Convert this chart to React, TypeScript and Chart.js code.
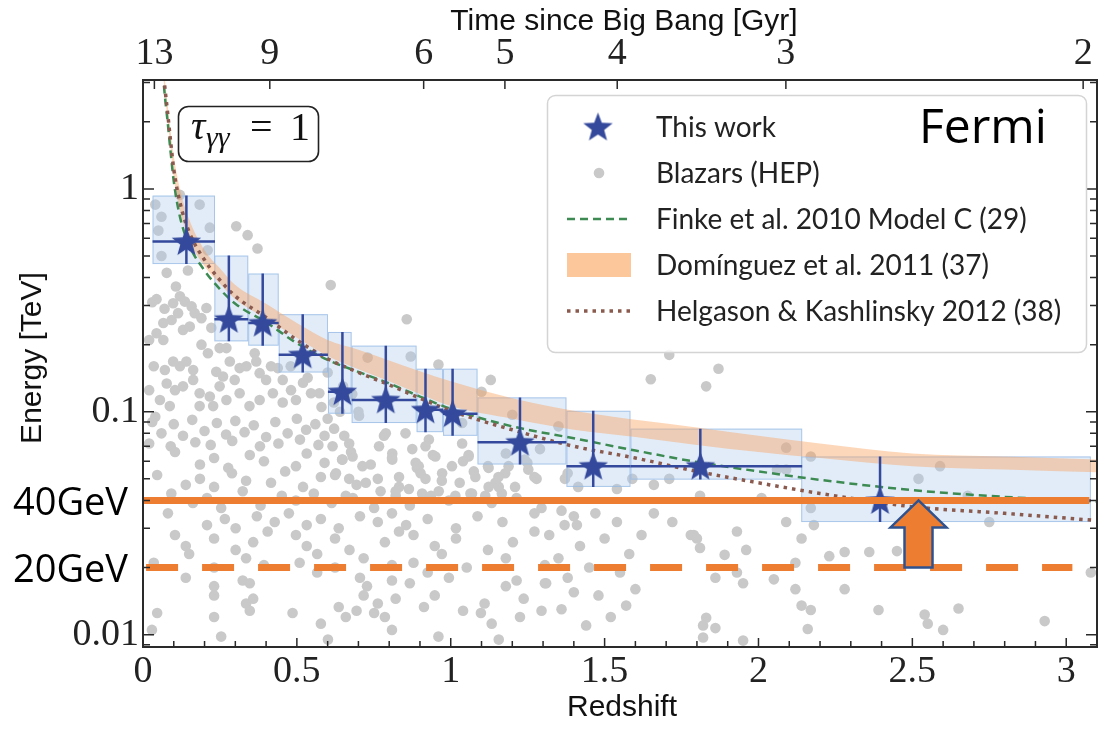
import React, { useEffect, useRef } from "react";
import { Chart, registerables } from "chart.js";

Chart.register(...registerables);

// ---- axes ----
const zMin = 0;
const zMax = 3.1;
const eMin = 0.0088;
const eMax = 3.08;
const redshiftTicks = [0, 0.5, 1, 1.5, 2, 2.5, 3];
const energyTicks = [0.01, 0.1, 1];
const ageLabels = [13, 9, 6, 5, 4, 3, 2];
const ageRedshifts = [0.037, 0.412, 0.912, 1.176, 1.541, 2.089, 3.055];

// ---- this work: tau = 1 energies with bin ranges ----
const starZ = [0.141, 0.279, 0.389, 0.519, 0.648, 0.789, 0.918, 1.006, 1.225, 1.463, 1.811, 2.395];
const starE = [0.58, 0.26, 0.25, 0.18, 0.123, 0.113, 0.102, 0.098, 0.073, 0.057, 0.057, 0.04];
const starZLo = [0.031, 0.232, 0.342, 0.441, 0.601, 0.678, 0.889, 0.975, 1.087, 1.376, 1.584, 2.139];
const starZHi = [0.234, 0.342, 0.441, 0.601, 0.678, 0.889, 0.975, 1.087, 1.376, 1.584, 2.142, 3.08];
const starELo = [0.46, 0.207, 0.198, 0.15, 0.098, 0.089, 0.081, 0.078, 0.058, 0.046, 0.0496, 0.032];
const starEHi = [0.933, 0.502, 0.417, 0.274, 0.228, 0.198, 0.156, 0.156, 0.116, 0.101, 0.084, 0.063];

// ---- EBL model curves ----
const curveZ = [0.05, 0.06, 0.07, 0.08, 0.09, 0.1, 0.12, 0.15, 0.2, 0.25, 0.3, 0.4, 0.5, 0.6, 0.7, 0.8, 0.9, 1.0, 1.2, 1.4, 1.6, 1.8, 2.0, 2.2, 2.5, 2.8, 3.1];
const finkeE = [6.5, 4.0, 2.7, 2.0, 1.45, 1.08, 0.75, 0.56, 0.43, 0.355, 0.305, 0.252, 0.203, 0.171, 0.151, 0.134, 0.117, 0.103, 0.086, 0.076, 0.067, 0.0595, 0.054, 0.0495, 0.0445, 0.0415, 0.0395];
const dominguezHi = [7.5, 4.6, 3.2, 2.4, 1.8, 1.4, 1.0, 0.73, 0.53, 0.44, 0.37, 0.305, 0.25, 0.21, 0.19, 0.17, 0.152, 0.137, 0.115, 0.101, 0.092, 0.085, 0.078, 0.072, 0.065, 0.063, 0.061];
const dominguezLo = [6.5, 4.0, 2.75, 2.05, 1.5, 1.12, 0.8, 0.59, 0.45, 0.375, 0.32, 0.262, 0.215, 0.178, 0.155, 0.137, 0.12, 0.106, 0.093, 0.083, 0.077, 0.071, 0.066, 0.062, 0.057, 0.055, 0.0535];
const helgasonE = [7.0, 4.3, 2.95, 2.2, 1.62, 1.22, 0.87, 0.64, 0.48, 0.39, 0.33, 0.265, 0.21, 0.173, 0.15, 0.132, 0.115, 0.101, 0.083, 0.07, 0.062, 0.054, 0.048, 0.043, 0.0375, 0.035, 0.0325];

// ---- Fermi thresholds ----
const thresholdE = [0.04, 0.02];
const thresholdLabels = ["n 40GeV", "n 20GeV"];
const solidLineZ = [0, 3.075];
const dashedLineZ = [0.01, 3.02];
const arrowZ = 2.52;

// ---- blazars (HEP): [redshift, energy TeV] ----
const blazarPoints: number[][] = [
  [0.04, 0.85], [0.06, 0.75], [0.12, 0.94], [0.184, 0.85], [0.05, 0.65], [0.21, 0.53], [0.217, 0.67], [0.303, 0.68],
  [0.34, 0.62], [0.372, 0.54], [0.06, 0.5], [0.077, 0.42], [0.146, 0.43], [0.61, 0.37], [0.107, 0.365], [0.044, 0.32],
  [0.07, 0.29], [0.098, 0.307], [0.12, 0.33], [0.136, 0.312], [0.158, 0.297], [0.168, 0.277], [0.114, 0.277], [0.093, 0.258],
  [0.066, 0.25], [0.044, 0.225], [0.066, 0.21], [0.13, 0.233], [0.152, 0.241], [0.19, 0.263], [0.206, 0.292], [0.222, 0.238],
  [0.249, 0.193], [0.271, 0.193], [0.19, 0.2], [0.211, 0.183], [0.098, 0.168], [0.12, 0.16], [0.141, 0.168], [0.163, 0.154],
  [0.071, 0.154], [0.238, 0.151], [0.26, 0.144], [0.282, 0.168], [0.298, 0.139], [0.314, 0.157], [0.336, 0.16], [0.363, 0.183],
  [0.368, 0.168], [0.379, 0.149], [0.4, 0.139], [0.416, 0.16], [0.438, 0.157], [0.454, 0.139], [0.481, 0.125], [0.497, 0.113],
  [0.535, 0.142], [0.546, 0.121], [0.573, 0.121], [0.077, 0.134], [0.104, 0.125], [0.13, 0.13], [0.163, 0.139], [0.184, 0.121],
  [0.217, 0.117], [0.249, 0.13], [0.271, 0.113], [0.314, 0.121], [0.346, 0.106], [0.379, 0.113], [0.422, 0.121], [0.454, 0.11],
  [0.055, 0.113], [0.087, 0.106], [0.184, 0.106], [0.228, 0.106], [0.03, 0.31], [0.02, 0.21], [0.035, 0.16], [0.02, 0.125],
  [0.04, 0.095], [0.48, 0.16], [0.52, 0.135], [0.6, 0.15], [0.65, 0.13], [0.58, 0.105], [0.62, 0.11], [0.68, 0.12],
  [0.7, 0.1], [0.64, 0.1], [0.6, 0.093],
  [0.621, 0.084], [0.654, 0.078], [0.616, 0.07], [0.67, 0.072], [0.702, 0.096], [0.681, 0.063], [0.648, 0.061], [0.713, 0.057],
  [0.627, 0.053], [0.67, 0.05], [0.724, 0.048], [0.767, 0.07], [0.783, 0.078], [0.81, 0.061], [0.832, 0.051], [0.853, 0.08],
  [0.875, 0.068], [0.896, 0.057], [0.929, 0.075], [0.95, 0.063], [0.918, 0.05], [0.972, 0.053], [1.004, 0.057], [1.037, 0.072],
  [1.058, 0.063], [1.08, 0.051], [1.123, 0.056], [1.145, 0.048], [1.177, 0.053], [1.209, 0.046], [1.252, 0.055], [1.279, 0.05],
  [0.772, 0.044], [0.821, 0.042], [0.864, 0.045], [0.907, 0.043], [0.961, 0.044], [1.015, 0.042], [1.069, 0.043], [1.112, 0.042],
  [1.166, 0.043], [0.659, 0.042],
  [1.13, 0.139], [0.96, 0.163], [0.87, 0.177], [0.73, 0.175], [1.1, 0.123], [1.2, 0.097], [1.35, 0.086], [1.29, 0.068], [0.857, 0.26],
  [1.71, 0.18], [1.87, 0.156], [1.65, 0.14], [1.83, 0.13], [0.789, 0.08], [0.81, 0.065], [0.886, 0.059], [0.918, 0.07],
  [1.037, 0.089], [1.058, 0.064], [1.123, 0.046], [1.155, 0.051], [1.188, 0.057], [1.24, 0.061], [1.414, 0.046], [1.371, 0.05],
  [1.54, 0.045], [1.59, 0.05],
  [1.38, 0.053], [1.66, 0.047], [1.71, 0.05], [1.81, 0.042], [2.01, 0.041], [2.09, 0.055], [2.06, 0.055], [1.47, 0.035],
  [1.4, 0.034], [1.37, 0.031], [1.41, 0.031], [1.54, 0.032], [1.66, 0.035], [1.72, 0.032], [1.93, 0.029], [2.09, 0.032],
  [2.18, 0.031], [1.78, 0.028], [1.79, 0.028], [1.36, 0.036], [2.17, 0.063], [2.09, 0.069], [2.52, 0.05], [2.59, 0.057],
  [2.68, 0.042], [2.75, 0.032], [2.17, 0.037], [1.81, 0.0245], [1.89, 0.0228], [1.96, 0.024], [2.14, 0.027], [2.23, 0.0225],
  [2.28, 0.0235], [2.36, 0.0235], [2.45, 0.0237], [2.12, 0.021], [1.86, 0.018], [1.93, 0.019], [1.95, 0.017], [2.05, 0.0177],
  [2.12, 0.016], [2.28, 0.016], [3.08, 0.019], [2.14, 0.0135], [2.17, 0.0129], [2.39, 0.0129], [2.54, 0.0123], [2.55, 0.0112],
  [2.6, 0.0105], [2.65, 0.0131], [2.93, 0.0115], [2.16, 0.0106], [1.83, 0.0119], [1.82, 0.011], [1.86, 0.0107], [1.82, 0.0097],
  [1.95, 0.0094], [1.8, 0.027],
  [1.32, 0.028], [1.35, 0.022], [1.38, 0.018], [1.42, 0.025], [1.45, 0.02], [1.48, 0.015], [1.5, 0.027], [1.52, 0.012],
  [1.55, 0.019], [1.58, 0.023], [1.36, 0.013], [1.44, 0.011], [1.6, 0.016], [1.62, 0.028], [1.4, 0.0155], [1.31, 0.017], [1.57, 0.0135],
  [0.03, 0.09], [0.1, 0.088], [0.16, 0.092], [0.24, 0.089], [0.3, 0.091], [0.36, 0.087], [0.43, 0.09], [0.5, 0.093], [0.56, 0.088],
  [0.06, 0.08], [0.13, 0.078], [0.2, 0.082], [0.27, 0.079], [0.33, 0.081], [0.4, 0.077], [0.47, 0.08], [0.53, 0.083], [0.59, 0.078],
  [0.02, 0.072], [0.09, 0.07], [0.17, 0.073], [0.22, 0.071], [0.29, 0.074], [0.38, 0.07], [0.44, 0.072], [0.51, 0.075], [0.57, 0.071],
  [0.104, 0.066], [0.185, 0.058], [0.231, 0.062], [0.277, 0.056], [0.347, 0.064], [0.393, 0.06], [0.497, 0.057], [0.532, 0.065],
  [0.59, 0.059], [0.647, 0.061], [0.676, 0.066], [0.74, 0.058], [0.809, 0.062], [0.89, 0.056], [0.942, 0.064], [1.04, 0.06],
  [1.121, 0.057], [1.179, 0.065], [1.249, 0.059],
  [0.046, 0.052], [0.139, 0.047], [0.185, 0.05], [0.231, 0.046], [0.289, 0.053], [0.335, 0.049], [0.416, 0.048], [0.462, 0.054],
  [0.52, 0.046], [0.578, 0.051], [0.624, 0.052], [0.694, 0.047], [0.763, 0.05], [0.832, 0.046], [0.902, 0.053], [0.971, 0.049],
  [1.029, 0.048], [1.075, 0.054], [1.156, 0.046], [1.272, 0.051],
  [0.092, 0.043], [0.162, 0.039], [0.208, 0.041], [0.254, 0.037], [0.324, 0.044], [0.382, 0.038], [0.451, 0.042], [0.497, 0.04],
  [0.555, 0.043], [0.613, 0.039], [0.682, 0.041], [0.751, 0.037], [0.821, 0.044], [0.867, 0.038], [0.936, 0.042], [0.994, 0.04],
  [1.064, 0.043], [1.133, 0.039], [1.214, 0.041], [1.295, 0.037],
  [0.081, 0.035], [0.208, 0.031], [0.266, 0.033], [0.301, 0.03], [0.37, 0.034], [0.428, 0.032], [0.474, 0.035], [0.532, 0.031],
  [0.578, 0.033], [0.636, 0.03], [0.705, 0.034], [0.763, 0.032], [0.809, 0.035], [0.855, 0.031], [0.925, 0.033], [1.017, 0.03],
  [1.087, 0.034], [1.168, 0.032], [1.272, 0.035],
  [0.104, 0.028], [0.139, 0.025], [0.231, 0.027], [0.301, 0.024], [0.358, 0.026], [0.405, 0.029], [0.497, 0.028], [0.532, 0.025],
  [0.624, 0.027], [0.671, 0.024], [0.786, 0.026], [0.832, 0.029], [0.879, 0.028], [0.948, 0.025], [1.017, 0.027], [1.121, 0.024],
  [1.202, 0.026], [1.272, 0.029],
  [0.035, 0.021], [0.15, 0.023], [0.231, 0.02], [0.335, 0.022], [0.393, 0.0205], [0.509, 0.021], [0.566, 0.023], [0.624, 0.02],
  [0.717, 0.022], [0.809, 0.0205], [0.879, 0.021], [0.971, 0.023], [1.052, 0.02], [1.179, 0.022], [1.306, 0.0205],
  [0.139, 0.018], [0.231, 0.0165], [0.324, 0.0175], [0.347, 0.017], [0.566, 0.019], [0.705, 0.018], [0.728, 0.0165], [0.809, 0.0175],
  [0.867, 0.017], [0.925, 0.019], [0.994, 0.018], [1.179, 0.0165], [1.214, 0.0175], [1.306, 0.017],
  [0.231, 0.015], [0.335, 0.0138], [0.358, 0.0145], [0.636, 0.0133], [0.717, 0.015], [0.763, 0.0138], [0.821, 0.0145], [0.913, 0.0133],
  [0.948, 0.015], [1.11, 0.0138], [1.237, 0.0145],
  [0.046, 0.0125], [0.231, 0.012], [0.347, 0.0128], [0.486, 0.0125], [0.659, 0.012], [0.694, 0.0128], [0.751, 0.0125], [0.786, 0.012],
  [1.04, 0.0128], [1.098, 0.0125], [1.225, 0.012], [1.295, 0.0128],
  [0.029, 0.0105], [0.254, 0.0098], [0.578, 0.0112], [0.601, 0.0095], [0.809, 0.0105], [0.96, 0.0098], [1.133, 0.0112], [1.156, 0.0095],
];

const legendLabels = [
  "This work",
  "Blazars (HEP)",
  "Finke et al. 2010 Model C (29)",
  "Domínguez et al. 2011 (37)",
  "Helgason & Kashlinsky 2012 (38)",
];

// ---- styles ----
const STAR_BLUE = "#34499c";
const DOT_GREY = "#c9c9c9";
const BOX_FILL = "rgba(170,200,235,0.35)";
const BOX_EDGE = "rgba(150,185,230,0.75)";
const BAND_FILL = "rgba(250,160,90,0.42)";
const LEGEND_BAND = "rgba(252,165,95,0.62)";
const FINKE_GREEN = "#3d8b52";
const HELGASON_BROWN = "#8a5a4e";
const FERMI_ORANGE = "#ed7d31";
const ARROW_EDGE = "#2f528f";
const SERIF = "'Liberation Serif', serif";
const SANS = "'Liberation Sans', Arial, sans-serif";

function makeStar(size: number, color: string): HTMLCanvasElement {
  const c = document.createElement("canvas");
  c.width = size;
  c.height = size;
  const g = c.getContext("2d")!;
  const R = size / 2 - 1;
  const r = R * 0.42;
  const cx = size / 2;
  const cy = size / 2 + 1;
  g.beginPath();
  for (let k = 0; k < 10; k++) {
    const ang = -Math.PI / 2 + (k * Math.PI) / 5;
    const rr = k % 2 === 0 ? R : r;
    const px = cx + rr * Math.cos(ang);
    const py = cy + rr * Math.sin(ang);
    if (k === 0) g.moveTo(px, py);
    else g.lineTo(px, py);
  }
  g.closePath();
  g.fillStyle = color;
  g.fill();
  return c;
}

function roundRect(ctx: CanvasRenderingContext2D, x: number, y: number, w: number, h: number, r: number) {
  ctx.beginPath();
  ctx.moveTo(x + r, y);
  ctx.lineTo(x + w - r, y);
  ctx.arcTo(x + w, y, x + w, y + r, r);
  ctx.lineTo(x + w, y + h - r);
  ctx.arcTo(x + w, y + h, x + w - r, y + h, r);
  ctx.lineTo(x + r, y + h);
  ctx.arcTo(x, y + h, x, y + h - r, r);
  ctx.lineTo(x, y + r);
  ctx.arcTo(x, y, x + r, y, r);
  ctx.closePath();
}

const pairs = (xs: number[], ys: number[]) => xs.map((x, i) => ({ x, y: ys[i] }));

export default function App() {
  const ref = useRef<HTMLCanvasElement>(null);

  useEffect(() => {
    document.body.style.margin = "0";
    const canvas = ref.current!;
    const starImg = makeStar(33, STAR_BLUE);

    const STARS = 2;
    const DOTS = 7;

    const decor = {
      id: "decor",
      afterDatasetDraw(chart: any, args: any) {
        if (args.index !== DOTS) return;
        // bin boxes of this work, above the blazar cloud
        const { ctx, scales } = chart;
        const xs = scales.x;
        const ys = scales.y;
        ctx.save();
        for (let i = 0; i < starZ.length; i++) {
          const x0 = xs.getPixelForValue(starZLo[i]);
          const x1 = xs.getPixelForValue(starZHi[i]);
          const y0 = ys.getPixelForValue(starEHi[i]);
          const y1 = ys.getPixelForValue(starELo[i]);
          ctx.fillStyle = BOX_FILL;
          ctx.fillRect(x0, y0, x1 - x0, y1 - y0);
          ctx.strokeStyle = BOX_EDGE;
          ctx.lineWidth = 1;
          ctx.strokeRect(x0 + 0.5, y0 + 0.5, x1 - x0 - 1, y1 - y0 - 1);
        }
        ctx.restore();
      },
      beforeDatasetDraw(chart: any, args: any) {
        if (args.index !== STARS) return;
        const { ctx, scales } = chart;
        const xs = scales.x;
        const ys = scales.y;
        ctx.save();
        ctx.strokeStyle = STAR_BLUE;
        ctx.lineWidth = 2.5;
        for (let i = 0; i < starZ.length; i++) {
          const xc = xs.getPixelForValue(starZ[i]);
          const yc = ys.getPixelForValue(starE[i]);
          ctx.beginPath();
          ctx.moveTo(xc, ys.getPixelForValue(starEHi[i]));
          ctx.lineTo(xc, ys.getPixelForValue(starELo[i]));
          ctx.moveTo(xs.getPixelForValue(starZLo[i]), yc);
          ctx.lineTo(xs.getPixelForValue(starZHi[i]), yc);
          ctx.stroke();
        }
        ctx.restore();
      },
      afterDatasetsDraw(chart: any) {
        // upward arrow between the two thresholds
        const { ctx, scales } = chart;
        const xc = scales.x.getPixelForValue(arrowZ);
        const yTip = scales.y.getPixelForValue(thresholdE[0]);
        const yBase = scales.y.getPixelForValue(thresholdE[1]);
        const headH = 27;
        const headHalf = 28;
        const shaftHalf = 14;
        ctx.save();
        ctx.beginPath();
        ctx.moveTo(xc, yTip);
        ctx.lineTo(xc + headHalf, yTip + headH);
        ctx.lineTo(xc + shaftHalf, yTip + headH);
        ctx.lineTo(xc + shaftHalf, yBase);
        ctx.lineTo(xc - shaftHalf, yBase);
        ctx.lineTo(xc - shaftHalf, yTip + headH);
        ctx.lineTo(xc - headHalf, yTip + headH);
        ctx.closePath();
        ctx.fillStyle = FERMI_ORANGE;
        ctx.fill();
        ctx.strokeStyle = ARROW_EDGE;
        ctx.lineWidth = 2.5;
        ctx.lineJoin = "miter";
        ctx.stroke();
        ctx.restore();
      },
      afterDraw(chart: any) {
        const { ctx, chartArea: a, scales } = chart;
        const xs = scales.x;
        const ys = scales.y;
        ctx.save();

        // frame
        ctx.strokeStyle = "#2a2a2a";
        ctx.lineWidth = 2;
        ctx.strokeRect(a.left, a.top, a.right - a.left, a.bottom - a.top);

        // inward ticks
        ctx.lineWidth = 1.5;
        ctx.beginPath();
        for (let i = 0; i <= Math.round(zMax * 10); i++) {
          const v = i / 10;
          const px = xs.getPixelForValue(v);
          const len = i % 5 === 0 ? 9 : 6;
          ctx.moveTo(px, a.bottom);
          ctx.lineTo(px, a.bottom - len);
        }
        ageRedshifts.forEach((v) => {
          const px = xs.getPixelForValue(v);
          ctx.moveTo(px, a.top);
          ctx.lineTo(px, a.top + 9);
        });
        for (let d = -3; d <= 0; d++) {
          for (let m = 1; m <= 9; m++) {
            const v = m * Math.pow(10, d);
            if (v < eMin || v > eMax) continue;
            const py = ys.getPixelForValue(v);
            const len = m === 1 ? 11 : 7;
            ctx.moveTo(a.left, py);
            ctx.lineTo(a.left + len, py);
            ctx.moveTo(a.right, py);
            ctx.lineTo(a.right - len, py);
          }
        }
        ctx.stroke();

        // axis titles
        ctx.fillStyle = "#111";
        ctx.font = `30px ${SANS}`;
        ctx.textAlign = "center";
        ctx.textBaseline = "middle";
        ctx.fillText("Time since Big Bang [Gyr]", 624, 22);
        ctx.fillText("Redshift", 622, 708);
        ctx.save();
        ctx.translate(33, 358);
        ctx.rotate(-Math.PI / 2);
        ctx.fillText("Energy [TeV]", 0, 0);
        ctx.restore();

        // tau label box
        ctx.fillStyle = "#fff";
        roundRect(ctx, 178.5, 106.5, 140, 55, 10);
        ctx.fill();
        ctx.strokeStyle = "#222";
        ctx.lineWidth = 1.6;
        ctx.stroke();
        ctx.fillStyle = "#111";
        ctx.textAlign = "left";
        ctx.textBaseline = "alphabetic";
        ctx.font = `italic 40px ${SERIF}`;
        ctx.fillText("τ", 191, 139);
        ctx.font = `italic 30px ${SERIF}`;
        ctx.fillText("γγ", 206, 147);
        ctx.font = `40px ${SERIF}`;
        ctx.fillText("=", 250, 140);
        ctx.fillText("1", 290, 140);

        // legend
        const lx = 547;
        const ly = 95;
        const lw = 539;
        const lh = 257;
        roundRect(ctx, lx + 0.5, ly + 0.5, lw, lh, 8);
        ctx.fillStyle = "rgba(255,255,255,0.85)";
        ctx.fill();
        ctx.strokeStyle = "#d4d4d4";
        ctx.lineWidth = 1.5;
        ctx.stroke();
        const rows = [127, 173, 219, 265, 311];
        const h0 = 567;
        const h1 = 631;
        ctx.drawImage(starImg, 598 - starImg.width / 2, rows[0] - starImg.height / 2);
        ctx.beginPath();
        ctx.arc(599, rows[1], 5.3, 0, Math.PI * 2);
        ctx.fillStyle = DOT_GREY;
        ctx.fill();
        ctx.save();
        ctx.strokeStyle = FINKE_GREEN;
        ctx.lineWidth = 2.5;
        ctx.setLineDash([8, 5]);
        ctx.beginPath();
        ctx.moveTo(h0, rows[2]);
        ctx.lineTo(h1, rows[2]);
        ctx.stroke();
        ctx.restore();
        ctx.fillStyle = LEGEND_BAND;
        ctx.fillRect(h0, rows[3] - 12, h1 - h0, 24);
        ctx.save();
        ctx.strokeStyle = HELGASON_BROWN;
        ctx.lineWidth = 3.5;
        ctx.setLineDash([3.5, 5]);
        ctx.beginPath();
        ctx.moveTo(h0, rows[4]);
        ctx.lineTo(h1, rows[4]);
        ctx.stroke();
        ctx.restore();
        ctx.fillStyle = "#222";
        ctx.font = "28px Lato, 'Noto Sans', sans-serif";
        ctx.textAlign = "left";
        ctx.textBaseline = "middle";
        legendLabels.forEach((t, i) => ctx.fillText(t, 656, rows[i] + 1));

        // instrument name
        ctx.fillStyle = "#000";
        ctx.font = "48px 'Open Sans', sans-serif";
        ctx.textBaseline = "alphabetic";
        ctx.fillText("Fermi", 919, 143);

        // threshold labels
        ctx.font = "38px 'Open Sans', sans-serif";
        ctx.textAlign = "right";
        ctx.textBaseline = "middle";
        thresholdE.forEach((e, i) => {
          ctx.fillText(thresholdLabels[i], 128, ys.getPixelForValue(e) + 4);
        });

        ctx.restore();
      },
    };

    const tickFont = { family: SERIF, size: 38 };

    const chart = new Chart(canvas, {
      type: "scatter",
      data: {
        datasets: [
          {
            label: "40 GeV",
            data: pairs(solidLineZ, [thresholdE[0], thresholdE[0]]),
            showLine: true,
            borderColor: FERMI_ORANGE,
            borderWidth: 7,
            pointRadius: 0,
            order: 1,
          },
          {
            label: "20 GeV",
            data: pairs(dashedLineZ, [thresholdE[1], thresholdE[1]]),
            showLine: true,
            borderColor: FERMI_ORANGE,
            borderWidth: 7,
            borderDash: [32, 24],
            pointRadius: 0,
            order: 1,
          },
          {
            label: legendLabels[0],
            data: pairs(starZ, starE),
            pointStyle: starImg as any,
            pointRadius: 15,
            order: 2,
          },
          {
            label: legendLabels[4],
            data: pairs(curveZ, helgasonE),
            showLine: true,
            borderColor: HELGASON_BROWN,
            borderWidth: 3.5,
            borderDash: [3.5, 5],
            pointRadius: 0,
            cubicInterpolationMode: "monotone",
            order: 4,
          },
          {
            label: legendLabels[2],
            data: pairs(curveZ, finkeE),
            showLine: true,
            borderColor: FINKE_GREEN,
            borderWidth: 2.5,
            borderDash: [8, 5],
            pointRadius: 0,
            cubicInterpolationMode: "monotone",
            order: 5,
          },
          {
            label: legendLabels[3],
            data: pairs(curveZ, dominguezHi),
            showLine: true,
            borderWidth: 0,
            borderColor: "rgba(0,0,0,0)",
            backgroundColor: BAND_FILL,
            fill: "+1",
            pointRadius: 0,
            cubicInterpolationMode: "monotone",
            order: 6,
          },
          {
            label: "Domínguez lower",
            data: pairs(curveZ, dominguezLo),
            showLine: true,
            borderWidth: 0,
            borderColor: "rgba(0,0,0,0)",
            pointRadius: 0,
            cubicInterpolationMode: "monotone",
            order: 7,
          },
          {
            label: legendLabels[1],
            data: blazarPoints.map((p) => ({ x: p[0], y: p[1] })),
            pointRadius: 5.3,
            pointBackgroundColor: DOT_GREY,
            pointBorderWidth: 0,
            order: 10,
          },
        ] as any,
      },
      options: {
        animation: false,
        responsive: false,
        devicePixelRatio: 1,
        events: [],
        layout: { padding: { left: 0, right: 12, top: 0, bottom: 0 } },
        plugins: { legend: { display: false }, tooltip: { enabled: false } },
        scales: {
          x: {
            type: "linear",
            position: "bottom",
            min: zMin,
            max: zMax,
            afterBuildTicks: (s: any) => {
              s.ticks = redshiftTicks.map((v) => ({ value: v }));
            },
            afterFit: (s: any) => {
              s.height = 86;
            },
            grid: { display: false, drawTicks: false },
            border: { display: false },
            ticks: {
              font: tickFont,
              color: "#222",
              padding: 2,
              maxRotation: 0,
              autoSkip: false,
              callback: (v: any) => String(v),
            },
          },
          x2: {
            type: "linear",
            position: "top",
            min: zMin,
            max: zMax,
            afterBuildTicks: (s: any) => {
              s.ticks = ageRedshifts.map((v) => ({ value: v }));
            },
            afterFit: (s: any) => {
              s.height = 80;
            },
            grid: { display: false, drawTicks: false },
            border: { display: false },
            ticks: {
              font: tickFont,
              color: "#222",
              padding: 3,
              maxRotation: 0,
              autoSkip: false,
              callback: (_v: any, i: number) => String(ageLabels[i]),
            },
          },
          y: {
            type: "logarithmic",
            position: "left",
            min: eMin,
            max: eMax,
            afterBuildTicks: (s: any) => {
              s.ticks = energyTicks.map((v) => ({ value: v }));
            },
            afterFit: (s: any) => {
              s.width = 143;
            },
            grid: { display: false, drawTicks: false },
            border: { display: false },
            ticks: {
              font: tickFont,
              color: "#222",
              padding: 4,
              autoSkip: false,
              callback: (v: any) => String(v),
            },
          },
        },
      } as any,
      plugins: [decor],
    });

    return () => chart.destroy();
  }, []);

  return (
    <canvas
      ref={ref}
      width={1113}
      height={733}
      style={{ display: "block", width: 1113, height: 733 }}
    />
  );
}
